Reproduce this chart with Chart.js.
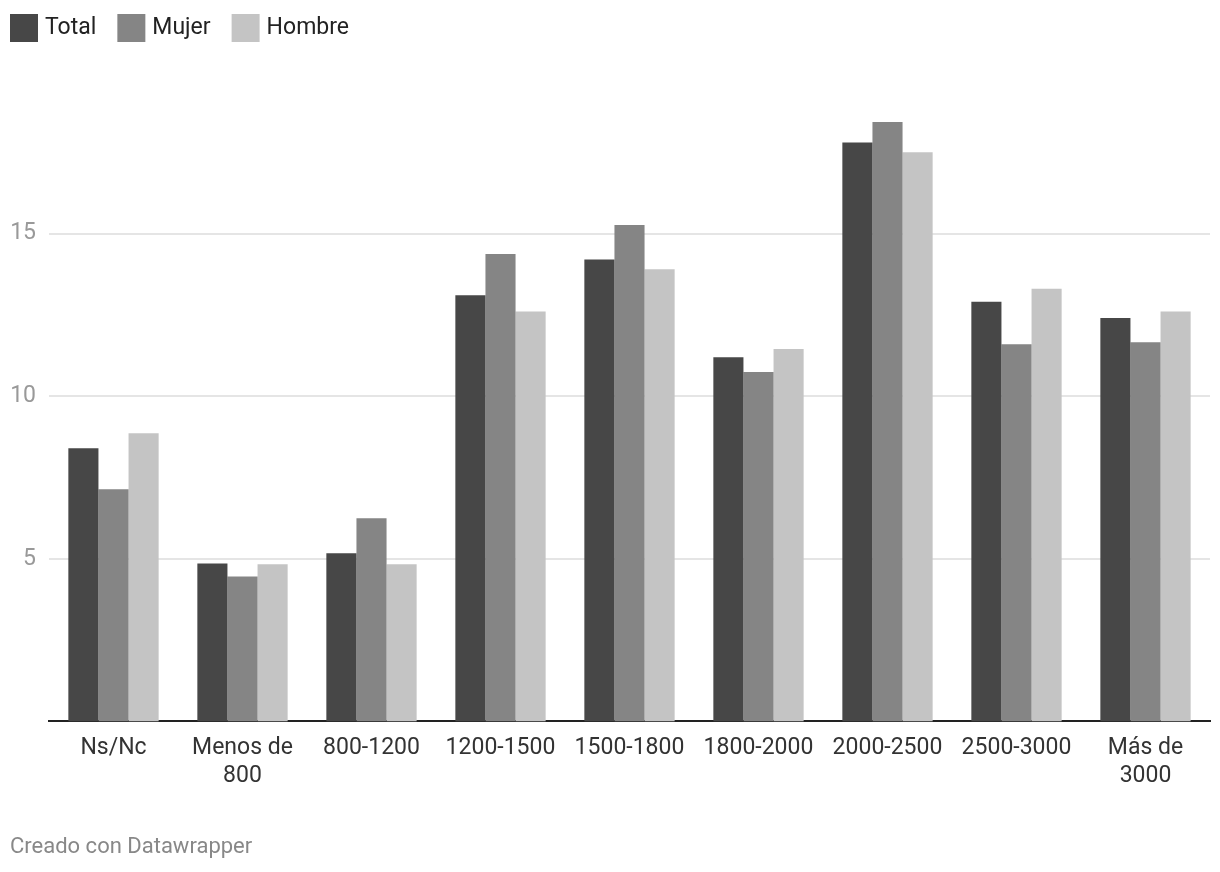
<!DOCTYPE html>
<html>
<head>
<meta charset="utf-8">
<script src="https://cdn.jsdelivr.net/npm/chart.js@4"></script>
<style>
  html, body { margin: 0; padding: 0; background: #fff; }
  #wrap { position: relative; width: 1220px; height: 872px; }
</style>
</head>
<body>
<div id="wrap"><canvas id="c" width="1220" height="872"></canvas></div>
<script>
const categories = ["Ns/Nc", ["Menos de", "800"], "800-1200", "1200-1500", "1500-1800", "1800-2000", "2000-2500", "2500-3000", ["Más de", "3000"]];
const seriesNames = ["Total", "Mujer", "Hombre"];
const totalValues  = [8.4, 4.86, 5.17, 13.1, 14.2, 11.2, 17.8, 12.9, 12.4];
const mujerValues  = [7.14, 4.46, 6.25, 14.37, 15.26, 10.74, 18.43, 11.6, 11.66];
const hombreValues = [8.86, 4.83, 4.83, 12.6, 13.9, 11.45, 17.5, 13.3, 12.6];
const yTicks = [5, 10, 15];
const footerText = "Creado con Datawrapper";

const colors = ["#474747", "#858585", "#c4c4c4"];
const FONT = "Roboto";

Chart.defaults.font.family = FONT;

// Simple top-left legend drawn from the chart's datasets
const topLegend = {
  id: "topLegend",
  afterDraw(chart) {
    const ctx = chart.ctx;
    ctx.save();
    ctx.font = "23px " + FONT;
    ctx.textBaseline = "middle";
    ctx.textAlign = "left";
    let x = 10;
    const y = 14, box = 28;
    chart.data.datasets.forEach(ds => {
      ctx.fillStyle = ds.backgroundColor;
      ctx.fillRect(x, y, box, box);
      x += box + 7;
      ctx.fillStyle = "#222";
      ctx.fillText(ds.label, x, y + box / 2);
      x += ctx.measureText(ds.label).width + 21;
    });
    ctx.restore();
  }
};

new Chart(document.getElementById("c"), {
  type: "bar",
  data: {
    labels: categories,
    datasets: [totalValues, mujerValues, hombreValues].map((vals, i) => ({
      label: seriesNames[i],
      data: vals,
      backgroundColor: colors[i],
      borderWidth: 0,
      categoryPercentage: 0.7,
      barPercentage: 1.0
    }))
  },
  plugins: [topLegend],
  options: {
    responsive: false,
    animation: false,
    devicePixelRatio: 1,
    layout: { padding: { left: 10, right: 10, top: 53, bottom: 11 } },
    plugins: {
      tooltip: { enabled: false },
      legend: { display: false },
      title: {
        display: true,
        text: footerText,
        position: "bottom",
        align: "start",
        color: "#888",
        font: { family: FONT, size: 22, weight: "normal" },
        padding: { top: 31, bottom: 0 }
      }
    },
    scales: {
      x: {
        grid: { display: false, drawTicks: false },
        border: { display: true, color: "#222", width: 2 },
        ticks: {
          color: "#333",
          font: { family: FONT, size: 23, lineHeight: 1.22 },
          padding: 13,
          maxRotation: 0,
          autoSkip: false
        }
      },
      y: {
        min: 0,
        max: 20.55,
        afterBuildTicks: (scale) => { scale.ticks = yTicks.map(v => ({ value: v })); },
        afterFit: (scale) => { scale.width = 39; },
        grid: { color: "#e5e5e5", lineWidth: 2, drawTicks: false },
        border: { display: false },
        ticks: {
          color: "#999",
          font: { family: FONT, size: 23 },
          padding: 13,
          stepSize: 5
        }
      }
    }
  }
});
</script>
</body>
</html>
